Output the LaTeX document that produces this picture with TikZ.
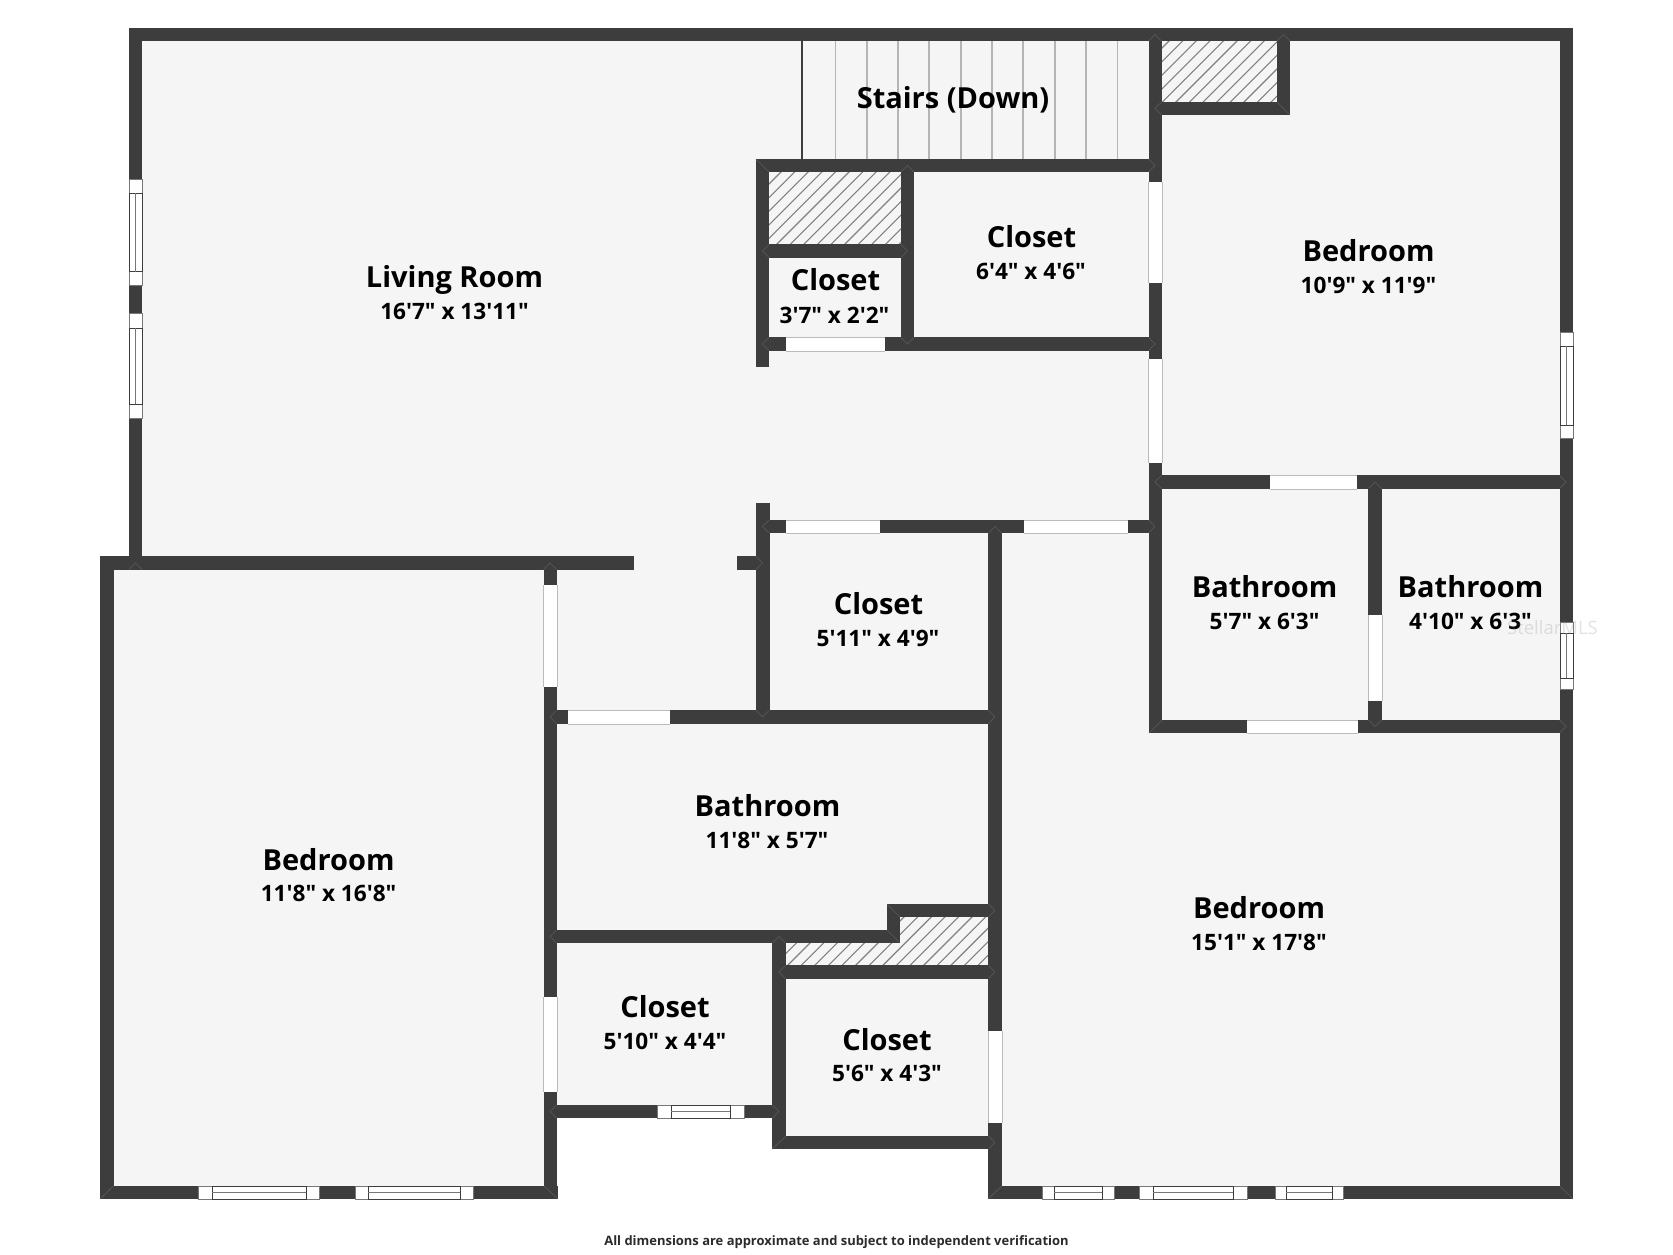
\documentclass[tikz,border=0pt]{standalone}
\usepackage{fontspec}
\newfontfamily\planfont{Open Sans}
\definecolor{wallc}{HTML}{3D3D3D}
\definecolor{floorc}{HTML}{F5F5F5}
\definecolor{edgec}{HTML}{BBBBBB}
\definecolor{treadc}{HTML}{B5B5B5}
\definecolor{hatchc}{HTML}{808080}
\definecolor{jointc}{HTML}{5C5C5C}
\tikzset{
  wallfill/.style={fill=wallc},
  doorfill/.style={fill=white},
  dooredge/.style={draw=edgec,line width=0.9pt},
  winframe/.style={draw=wallc,line width=1pt},
  winthin/.style={draw=wallc!70,line width=0.8pt},
  treadline/.style={draw=treadc,line width=1.1pt},
  hatchline/.style={draw=hatchc,line width=1.1pt},
  jointline/.style={draw=jointc,line width=0.6pt},
  roomname/.style={font=\planfont\bfseries\fontsize{29}{31}\selectfont,text=black,inner sep=0pt,anchor=base},
  roomdim/.style={font=\planfont\bfseries\fontsize{22.6}{24}\selectfont,text=black,inner sep=0pt,anchor=base},
  footnote/.style={font=\planfont\bfseries\fontsize{12.95}{14}\selectfont,text=wallc!70!black,inner sep=0pt,anchor=base},
  watermark/.style={font=\planfont\fontsize{18.5}{20}\selectfont,text=gray,opacity=0.22,inner sep=0pt,anchor=base},
}
\newcommand{\hatchregion}[2]{%
  \begin{scope}
    \fill[floorc] #1;
    \clip #1;
    \foreach \k in {-30,...,30}{
      \draw[hatchline] ({#2+13.6*\k-1300},1300) -- ({#2+13.6*\k},0);
    }
  \end{scope}}
\begin{document}
\begin{tikzpicture}[x=1pt,y=-1pt]
\useasboundingbox (0,0) rectangle (1673,1255);
\fill[white] (0,0) rectangle (1673,1255);
% floor
\fill[floorc] (129,28) -- (1573,28) -- (1573,1199) -- (988,1199) -- (988,1149) -- (772,1149) -- (772,1118) -- (557,1118) -- (557,1199) -- (100,1199) -- (100,556) -- (129,556) -- cycle;
% stairs
\foreach \x in {835.5,867,898,929,961,992,1023,1055,1086,1117.5}{
  \draw[treadline] (\x,41) -- (\x,159);
}
\draw[draw=wallc,line width=2.2pt] (802,41) -- (802,159);
% hatching
\hatchregion{(1162,41) rectangle (1277,102)}{1210}
\hatchregion{(769,172) rectangle (901,244)}{953}
\hatchregion{(786,943) -- (900,943) -- (900,917) -- (988,917) -- (988,965) -- (786,965) -- cycle}{1834.6}
% walls: x1/y1/x2/y2
\foreach \a/\b/\c/\d in {
  129/28/1573/41, 129/28/142/556, 100/556/634/570, 100/556/113.5/1199,
  100/1186/558/1199, 543.5/556/557/1199, 737/556/756/570,
  756/503/769.5/724, 756/159/769/367, 756/159/1162/172, 756/244/914/258,
  901/159/914/351, 756/337/1162/351, 1148.6/28/1162/359, 1148.6/462.7/1162/733,
  1162/102/1290/115, 1277/28/1290/115, 1560/28/1573/1199,
  1149/475/1560/489, 1149/720/1560/733, 1368/475/1382/733,
  769/520/1149/533, 557/710/1002/724, 988/520/1002/1199,
  988/1186/1573/1199, 557/930/900/943, 887/904/900/943, 887/904/988/917,
  772/930/786/1149, 786/965/988/979, 772/1136/1002/1149, 557/1105/772/1118}{
  \fill[wallfill] (\a,\b) rectangle (\c,\d);
}
% horizontal doors: x1/x2/y1/y2
\foreach \a/\b/\c/\d in {
  786/885/337/351, 786/880/520/533, 1024/1128/520/533, 567.5/670/710/724,
  1270/1357/475/489, 1247/1358/720/733}{
  \fill[doorfill] (\a,\c) rectangle (\b,\d);
  \draw[dooredge] (\a,\c) -- (\b,\c) (\a,\d) -- (\b,\d);
}
% vertical doors: y1/y2/x1/x2
\foreach \a/\b/\c/\d in {
  182/283/1148.6/1162, 359/462.7/1148.6/1162, 615/700.7/1368/1382,
  585/687/543.5/557, 997/1092/543.5/557, 1031/1123/988/1002}{
  \fill[doorfill] (\c,\a) rectangle (\d,\b);
  \draw[dooredge] (\c,\a) -- (\c,\b) (\d,\a) -- (\d,\b);
}
% horizontal windows: start/frame/frame/end/y1/y2
\foreach \a/\p/\q/\b/\c/\d in {
  198/212/306/319/1186/1199, 355/368/460/473/1186/1199,
  1042/1054/1102/1114/1186/1199, 1139/1153/1233/1247/1186/1199,
  1275/1286/1332/1343/1186/1199, 657.5/671/730/744/1105/1118}{
  \fill[white] (\a,\c) rectangle (\b,\d);
  \draw[winthin] (\a,\c) rectangle (\b,\d);
  \draw[winframe] (\p,\c) rectangle (\q,\d);
  \draw[winthin] (\p,{(\c+\d)/2}) -- (\q,{(\c+\d)/2});
}
% vertical windows: start/frame/frame/end/x1/x2
\foreach \a/\p/\q/\b/\c/\d in {
  179/193/271.7/285.7/129/142, 313/328/404/418/129/142,
  332/346/425/438/1560/1573, 622/633/678/689/1560/1573}{
  \fill[white] (\c,\a) rectangle (\d,\b);
  \draw[winthin] (\c,\a) rectangle (\d,\b);
  \draw[winframe] (\c,\p) rectangle (\d,\q);
  \draw[winthin] ({(\c+\d)/2},\p) -- ({(\c+\d)/2},\q);
}
% wall joints: chevrons at T junctions, apex/direction
\foreach \x/\y/\u/\v in {
  1155/165.5/1/0, 907.5/165.5/0/-1, 762.5/251/-1/0, 907.5/251/1/0,
  907.5/344/0/1, 762.5/344/-1/0, 1155/344/1/0, 1155/108.5/-1/0,
  1155/34.5/0/-1, 1283.5/34.5/0/-1, 1155/482/-1/0, 1566/482/1/0,
  1375/482/0/-1, 1375/726.5/0/1, 1566/726.5/1/0, 1155/526.5/1/0,
  762.5/526.5/-1/0, 995/526.5/0/-1, 762.5/717/0/1, 995/717/1/0,
  550/717/-1/0, 550/563/0/-1, 762.5/563/1/0, 550/936.5/-1/0,
  779/936.5/0/-1, 995/910.5/1/0, 995/972/1/0, 779/972/-1/0,
  995/1142.5/1/0, 779/1111.5/1/0, 550/1111.5/-1/0, 135.5/563/0/-1}{
  \draw[jointline] ({\x-6.5*\u-6.5*\v},{\y-6.5*\v-6.5*\u}) -- (\x,\y) -- ({\x-6.5*\u+6.5*\v},{\y-6.5*\v+6.5*\u});
}
% wall joints: mitres at corners
\foreach \a/\b/\c/\d in {
  100/1199/113.5/1186, 558/1199/544/1186, 988/1199/1002/1186, 1573/1199/1560/1186,
  772/1149/786/1136, 1149/733/1162/720, 887/904/900/917, 900/943/887/930,
  756/159/769/172, 1290/115/1277/102}{
  \draw[jointline] (\a,\b) -- (\c,\d);
}
% labels
\node[roomname] (n1) at (454.5,287) {Living Room};
\node[roomdim]  (d1) at (454.5,319) {16'7" x 13'11"};
\node[roomname] (n2) at (953,108) {Stairs (Down)};
\node[roomname] (n3) at (1031.5,247) {Closet};
\node[roomdim]  (d3) at (1031,279) {6'4" x 4'6"};
\node[roomname] (n4) at (835.5,290) {Closet};
\node[roomdim]  (d4) at (834.5,323) {3'7" x 2'2"};
\node[roomname] (n5) at (1368.5,261.5) {Bedroom};
\node[roomdim]  (d5) at (1368.5,293) {10'9" x 11'9"};
\node[roomname] (n6) at (1264.6,597) {Bathroom};
\node[roomdim]  (d6) at (1264.6,629) {5'7" x 6'3"};
\node[roomname] (n7) at (1470.5,597) {Bathroom};
\node[roomdim]  (d7) at (1470.5,629) {4'10" x 6'3"};
\node[roomname] (n8) at (878.5,614) {Closet};
\node[roomdim]  (d8) at (878,646) {5'11" x 4'9"};
\node[roomname] (n9) at (328.5,870) {Bedroom};
\node[roomdim]  (d9) at (328.6,901.5) {11'8" x 16'8"};
\node[roomname] (n10) at (767.5,816.5) {Bathroom};
\node[roomdim]  (d10) at (767,848.5) {11'8" x 5'7"};
\node[roomname] (n11) at (1259,918) {Bedroom};
\node[roomdim]  (d11) at (1259,950) {15'1" x 17'8"};
\node[roomname] (n12) at (665,1017) {Closet};
\node[roomdim]  (d12) at (665,1049) {5'10" x 4'4"};
\node[roomname] (n13) at (887,1050) {Closet};
\node[roomdim]  (d13) at (887,1081) {5'6" x 4'3"};
\node[footnote] (foot) at (836.5,1245) {All dimensions are approximate and subject to independent verification};
\node[watermark] (wm) at (1552.5,634) {StellarMLS};
\end{tikzpicture}
\end{document}
